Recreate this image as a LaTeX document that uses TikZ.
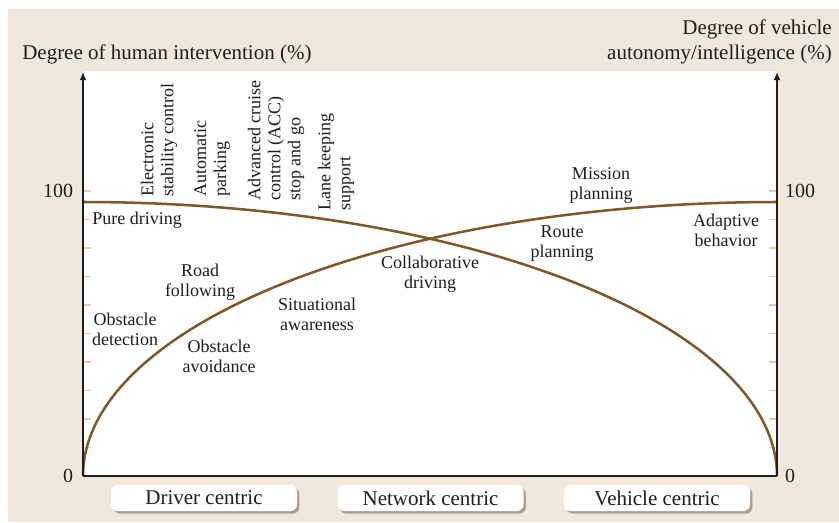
\documentclass[tikz,border=0pt]{standalone}
\usepackage{fontspec}
\setmainfont{Liberation Serif}
\usetikzlibrary{arrows.meta,positioning,shadows}
\definecolor{paper}{HTML}{F1E7DD}
\definecolor{curve}{HTML}{7D5A2B}
\definecolor{tickc}{HTML}{E3CBAC}
\definecolor{ink}{HTML}{1E1E1E}
\definecolor{shade}{HTML}{7A7066}
\tikzset{>={Latex[length=6pt,width=5pt]},
  axis/.style={->,line width=1pt,ink},
  trend/.style={line width=1.9pt,curve},
  tickmark/.style={line width=0.8pt,tickc},
  lbl/.style={align=center,inner sep=0pt,font=\fontsize{13.5pt}{15pt}\selectfont,text=ink},
  vlbl/.style={lbl,align=left,rotate=90,anchor=west},
  ttl/.style={lbl,font=\fontsize{15.75pt}{18.75pt}\selectfont},
  num/.style={lbl,font=\fontsize{15pt}{15pt}\selectfont},
  centric/.style={fill=white,rounded corners=5pt,minimum width=139.5pt,minimum height=19.5pt,
    inner sep=0pt,font=\fontsize{15.75pt}{15.75pt}\selectfont,text=ink,
    drop shadow={shadow xshift=1.8pt,shadow yshift=-2pt,opacity=.6,fill=shade}}}
\begin{document}
\begin{tikzpicture}[x=0.75pt,y=-0.75pt]
  % frame
  \fill[white] (0,0) rectangle (839,522);
  \fill[paper] (8,9) rectangle (839,522);
  \fill[white] (83,71) rectangle (777,476);
  \useasboundingbox (0,0) rectangle (839,522);
  \coordinate (o) at (83,476);
  \coordinate (e) at (777,476);
  \coordinate (ltop) at (83,72);
  \coordinate (rtop) at (777,72);
  % ticks
  \foreach \k in {1,...,10}{
    \draw[tickmark] (83,{476-28.5*\k}) -- ++(8,0);
    \draw[tickmark] (777,{476-28.5*\k}) -- ++(-8,0);
  }
  % curves
  \draw[trend] plot[domain=0:90,samples=90,smooth] ({83+694*sin(\x)},{476-274*cos(\x)});
  \draw[trend] plot[domain=0:90,samples=90,smooth] ({777-694*sin(\x)},{476-274*cos(\x)});
  % axes
  \draw[axis] (o) -- (ltop);
  \draw[axis] (e) -- (rtop);
  \draw[line width=1pt,ink] (o) -- (e);
  \node[num] (y100l) at (58,191) {100};
  \node[num] (y0l) at (68,476) {0};
  \node[num] (y100r) at (800,191) {100};
  \node[num] (y0r) at (790,476) {0};
  \node[ttl,anchor=west] (hum) at (22,54) {Degree of human intervention (\%)};
  \node[ttl,align=right,anchor=east] (veh) at (832,42) {Degree of vehicle\\autonomy/intelligence (\%)};
  % driver aids
  \node[vlbl] (esc) at (159,197) {Electronic\\stability control};
  \node[vlbl] (park) at (212,197) {Automatic\\parking};
  \node[vlbl] (acc) at (276,201) {Advanced cruise\\control (ACC)\\stop and go};
  \node[vlbl] (lane) at (336,211) {Lane keeping\\support};
  % capabilities
  \node[lbl,anchor=west] (pure) at (92,220) {Pure driving};
  \node[lbl] (road) at (200,282) {Road\\following};
  \node[lbl] (detect) at (125,329) {Obstacle\\detection};
  \node[lbl] (avoid) at (219,356) {Obstacle\\avoidance};
  \node[lbl] (situ) at (317,314) {Situational\\awareness};
  \node[lbl] (collab) at (430,274) {Collaborative\\driving};
  \node[lbl] (mission) at (601,185) {Mission\\planning};
  \node[lbl] (route) at (562,244) {Route\\planning};
  \node[lbl] (adapt) at (726,230) {Adaptive\\behavior};
  % centric boxes
  \node[centric] (drv) at (204,498) {Driver centric};
  \node[centric,right=30pt of drv] (net) {Network centric};
  \node[centric,right=30pt of net] (vcl) {Vehicle centric};
\end{tikzpicture}
\end{document}
